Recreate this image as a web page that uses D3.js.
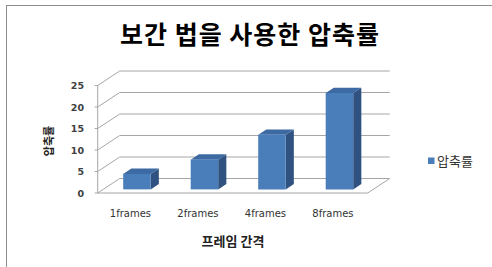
<!DOCTYPE html>
<html><head><meta charset="utf-8">
<script src="https://cdn.jsdelivr.net/npm/d3@7/dist/d3.min.js"></script>
<style>body{margin:0;background:#fff}svg{display:block}</style>
</head><body>
<svg id="c" width="492" height="267"></svg>
<script>
const categories = ["1frames", "2frames", "4frames", "8frames"];
const values = [3.6, 6.9, 12.7, 22.4];
const yTicks = [0, 5, 10, 15, 20, 25];
const seriesName = "압축률";
const title = "보간 법을 사용한 압축률";
const xTitle = "프레임 간격";
const yTitle = "압축률";

const svg = d3.select("#c");
const DX = 22, DY = 14.5;
const x = d3.scaleBand().domain(categories).range([97.7, 367.7]);
const y = d3.scaleLinear().domain([0, 25]).range([193, 85.5]);
const P = (px, v, d) => [px + d * DX, y(v) - d * DY];

// border
svg.append("rect").attr("x", 6.5).attr("y", 5.5).attr("width", 520).attr("height", 300)
  .attr("fill", "none").attr("stroke", "#8c8c8c").attr("stroke-width", 1);

// title
svg.append("text").attr("x", 250).attr("y", 44).attr("text-anchor", "middle")
  .attr("font-family", "Noto Sans CJK KR").attr("font-weight", "bold").attr("font-size", 25)
  .attr("letter-spacing", 1)
  .attr("fill", "#000").text(title);

const grid = svg.append("g").attr("stroke", "#a6a6a6").attr("fill", "none").attr("stroke-width", 1);
const x0 = x.range()[0], x1 = x.range()[1];
yTicks.forEach(t => {
  const a = P(x0, t, 0), b = P(x0, t, 1), c = P(x1, t, 1);
  grid.append("path").attr("d", d3.line()([a, b, c]));
});
// floor
const f = [P(x1, 0, 1), P(x1, 0, 0), P(x0, 0, 0)];
grid.append("path").attr("d", d3.line()(f));
// vertical axis line and ticks
grid.append("line").attr("x1", x0).attr("x2", x0).attr("y1", y(0)).attr("y2", y(25));
yTicks.forEach(t => {
  grid.append("line").attr("x1", x0 - 3).attr("x2", x0).attr("y1", y(t)).attr("y2", y(t));
});

// y tick labels
svg.append("g").selectAll("text").data(yTicks).join("text")
  .attr("x", 84).attr("y", d => y(d) + 3.5).attr("text-anchor", "end")
  .attr("font-family", "DejaVu Sans").attr("font-weight", "bold").attr("font-size", 9.5)
  .attr("fill", "#404040").text(d => d);

// bars
const d0 = 0.25, d1 = 0.62, bw = 27.5;
const bars = svg.append("g");
categories.forEach((c, i) => {
  const v = values[i];
  const xl = x(c) + x.bandwidth() / 2 - bw / 2, xr = xl + bw;
  const front = [P(xl, 0, d0), P(xr, 0, d0), P(xr, v, d0), P(xl, v, d0)];
  const side = [P(xr, 0, d0), P(xr, v, d0), P(xr, v, d1), P(xr, 0, d1)];
  const top = [P(xl, v, d0), P(xr, v, d0), P(xr, v, d1), P(xl, v, d1)];
  bars.append("path").attr("d", d3.line()(side) + "Z").attr("fill", "#2f5280");
  bars.append("path").attr("d", d3.line()(top) + "Z").attr("fill", "#3d6aa3");
  bars.append("path").attr("d", d3.line()(front) + "Z").attr("fill", "#4a7ebb");
});

// category labels
svg.append("g").selectAll("text").data(categories).join("text")
  .attr("x", d => x(d) + x.bandwidth() / 2 - 1).attr("y", 217).attr("text-anchor", "middle")
  .attr("font-family", "DejaVu Sans").attr("font-size", 10)
  .attr("fill", "#333").text(d => d);

// axis titles
svg.append("text").attr("x", 233).attr("y", 245.5).attr("text-anchor", "middle")
  .attr("font-family", "Noto Sans CJK KR").attr("font-weight", "bold").attr("font-size", 13)
  .attr("fill", "#222").text(xTitle);
svg.append("text").attr("transform", "translate(53,141) rotate(-90)").attr("text-anchor", "middle")
  .attr("font-family", "Noto Sans CJK KR").attr("font-weight", "bold").attr("font-size", 11)
  .attr("fill", "#222").text(yTitle);

// legend
svg.append("rect").attr("x", 428).attr("y", 157.5).attr("width", 6.5).attr("height", 6.5).attr("fill", "#4a7ebb");
svg.append("text").attr("x", 437).attr("y", 166).attr("font-family", "Noto Sans CJK KR")
  .attr("font-size", 13).attr("fill", "#333").text(seriesName);
</script>
</body></html>
